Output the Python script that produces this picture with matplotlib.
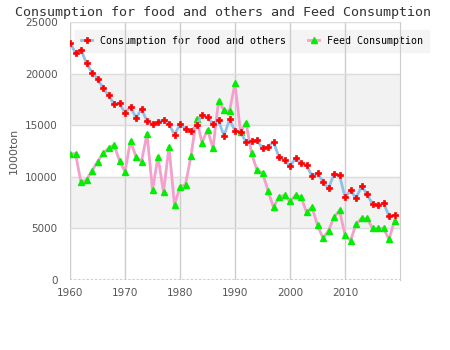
import matplotlib
matplotlib.use("Agg")
import matplotlib.pyplot as plt

# Years and values (1000 ton)
years = list(range(1960, 2020))

food_others = [
    23000, 22000, 22300, 21000, 20100, 19500, 18600, 17900, 17050, 17150,
    16150, 16800, 15700, 16550, 15400, 15100, 15300, 15500, 15150, 14050,
    15100, 14630, 14440, 15020, 15990, 15760, 15090, 15470, 13950, 15570,
    14440, 14310, 13370, 13470, 13530, 12760, 12920, 13370, 11890, 11630,
    11010, 11790, 11310, 11110, 10080, 10370, 9500, 8880, 10270, 10170,
    8010, 8690, 7910, 9080, 8330, 7330, 7240, 7460, 6200, 6270,
]

feed = [
    12240, 12240, 9460, 9720, 10590, 11460, 12270, 12760, 13080, 11560,
    10500, 13470, 11950, 11460, 14180, 8720, 11950, 8500, 12920, 7240,
    9040, 9250, 12050, 15630, 13310, 14570, 12760, 17310, 16440, 16350,
    19060, 14340, 15250, 12300, 10630, 10400, 8650, 7040, 8070, 8200,
    7620, 8200, 8070, 6560, 7040, 5300, 4040, 4780, 6070, 6750,
    4360, 3810, 5400, 5980, 5980, 5010, 5010, 5010, 3940, 5750,
]

series_names = ["Consumption for food and others", "Feed Consumption"]
x_ticks = [1960, 1970, 1980, 1990, 2000, 2010]
y_ticks = [0, 5000, 10000, 15000, 20000, 25000]

MONO = "DejaVu Sans Mono"
TICK_GRAY = "#555555"

fig = plt.figure(figsize=(4.5, 3.5), dpi=100)
ax = fig.add_axes([70 / 450, 70 / 350, 330 / 450, 258 / 350])

# alternating horizontal bands
for lo in (5000, 15000):
    ax.axhspan(lo, lo + 5000, color="#f2f2f2", zorder=0)

ax.plot(years, food_others, color="#8ec0ee", lw=2, marker="P", ms=4,
        mfc="#ff0000", mec="#ff0000", mew=0.5, label=series_names[0], zorder=3)
ax.plot(years, feed, color="#f4a0cc", lw=2, marker="^", ms=4.5,
        mfc="#00ee00", mec="#00ee00", label=series_names[1], zorder=2)
ax.axhline(0, color="#a8e0c8", lw=1.5, ls=(0, (1, 1)), zorder=1)

ax.set_xlim(1960, 2020)
ax.set_ylim(0, 25000)
ax.set_xticks(x_ticks)
ax.set_yticks(y_ticks)
ax.grid(axis="y", color="#dddddd", lw=1)
ax.grid(axis="x", color="#cccccc", lw=1)
ax.set_axisbelow(True)

for side in ("top", "bottom", "left"):
    ax.spines[side].set_visible(False)
ax.spines["right"].set_color("#cccccc")
ax.tick_params(length=0, labelsize=7.5, colors=TICK_GRAY, pad=6)
ax.tick_params(axis="y", pad=9)

ax.set_ylabel("1000ton", fontsize=8, color=TICK_GRAY, labelpad=4)

fig.text(0.496, 0.965, "Consumption for food and others and Feed Consumption",
         ha="center", va="center", fontsize=9.6, family=MONO, color="#333333")

leg = ax.legend(loc="upper left", bbox_to_anchor=(0.0, 0.99), ncol=2,
                prop={"family": MONO, "size": 7.2}, frameon=True,
                fancybox=False, handlelength=1.1, columnspacing=2.2,
                borderpad=0.6, handletextpad=0.8)
leg.get_frame().set_facecolor("#f4f4f4")
leg.get_frame().set_edgecolor("#f4f4f4")
leg.get_frame().set_alpha(1)
leg.set_zorder(0.3)

fig.savefig("out.png", dpi=100)
